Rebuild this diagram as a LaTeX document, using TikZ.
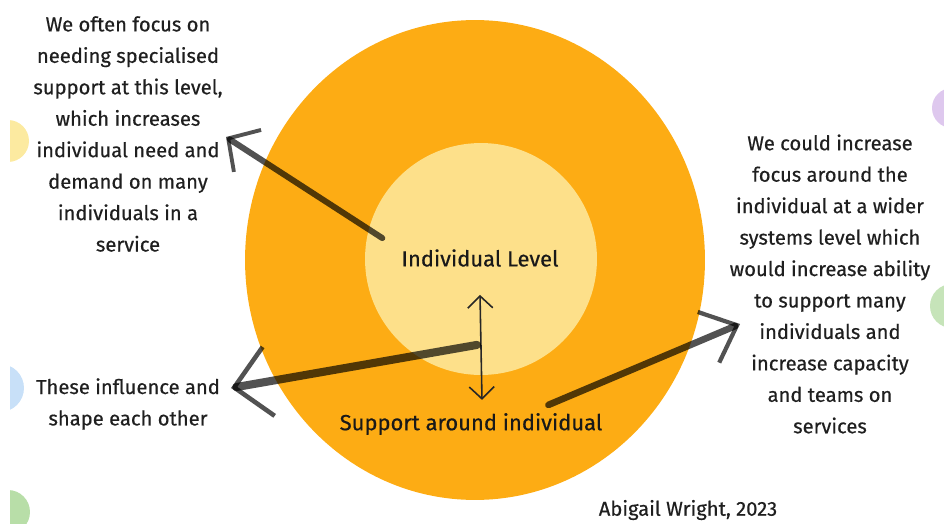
\documentclass[tikz,border=0pt]{standalone}
\usepackage{fontspec}
\setmainfont{Fira Sans}[FakeBold=0.5]
\usetikzlibrary{arrows.meta, positioning}

\definecolor{ringorange}{RGB}{253,172,20}
\definecolor{corefill}{RGB}{253,224,138}
\definecolor{dotyellow}{RGB}{252,234,160}
\definecolor{dotblue}{RGB}{200,224,248}
\definecolor{dotgreen}{RGB}{184,222,168}
\definecolor{dotpurple}{RGB}{222,200,238}

\begin{document}
\begin{tikzpicture}[x=0.02cm, y=-0.02cm,
    note/.style={align=center, font=\fontsize{11.5}{17.9}\selectfont, text=black!88},
    levellabel/.style={font=\fontsize{12.5}{15}\selectfont, text=black!90},
    brush/.style={draw=black, draw opacity=0.68, line cap=round},
    twoway/.style={{Straight Barb[length=2.4mm, width=5mm]}-{Straight Barb[length=2.4mm, width=5mm]}, line width=0.9pt, black!85}]
    \useasboundingbox (0,0) rectangle (944,524);

    % little dots cut by the page edge
    \begin{scope}
        \clip (10,0) rectangle (944,524);
        \fill[dotyellow] (8,141) circle[radius=0.42cm];
        \fill[dotblue] (0,388) circle[radius=0.48cm];
        \fill[dotgreen] (8,512) circle[radius=0.44cm];
        \fill[dotpurple] (952,108) circle[radius=0.40cm];
        \fill[dotgreen!80] (952,306) circle[radius=0.44cm];
    \end{scope}

    % outer ring and inner level
    \fill[ringorange] (475,260) ellipse[x radius=4.6cm, y radius=4.8cm];
    \fill[corefill] (481,259) circle[radius=2.32cm];

    \node[levellabel] (lvl) at (480,258) {Individual Level};
    \node[levellabel] (sup) at (471,424) {Support around individual};

    \node[note] (focus) at (128,134) {We often focus on\\needing specialised\\support at this level,\\which increases\\individual need and\\demand on many\\individuals in a\\service};
    \node[note] (shape) at (128,404) {These influence and\\shape each other};
    \node[note] (wider) at (830,284) {We could increase\\focus around the\\individual at a wider\\systems level which\\would increase ability\\to support many\\individuals and\\increase capacity\\and teams on\\services};
    \node[note] (cite) at (688,510) {Abigail Wright, 2023};

    \coordinate (focus tip) at (226,137);
    \coordinate (shape tip) at (231,388);
    \coordinate (wider tip) at (740,324);

    \draw[twoway] ([shift={(0,22)}]lvl.south) -- ([shift={(2,-7)}]lvl.south |- sup.north);

    \draw[brush, line width=3.4pt, -{Straight Barb[length=4.6mm, width=10mm, line width=2.2pt]}]
        ([shift={(-13,-5)}]lvl.north west) -- (focus tip);
    \draw[brush, line width=4.6pt, -{Straight Barb[length=7mm, width=14mm, line width=2.6pt]}]
        ([shift={(-3,72)}]lvl.south) -- (shape tip);
    \draw[brush, line width=3.8pt, -{Straight Barb[length=6.2mm, width=11mm, line width=2.4pt]}]
        ([shift={(-60,-2)}]sup.north east) -- (wider tip);
\end{tikzpicture}
\end{document}
